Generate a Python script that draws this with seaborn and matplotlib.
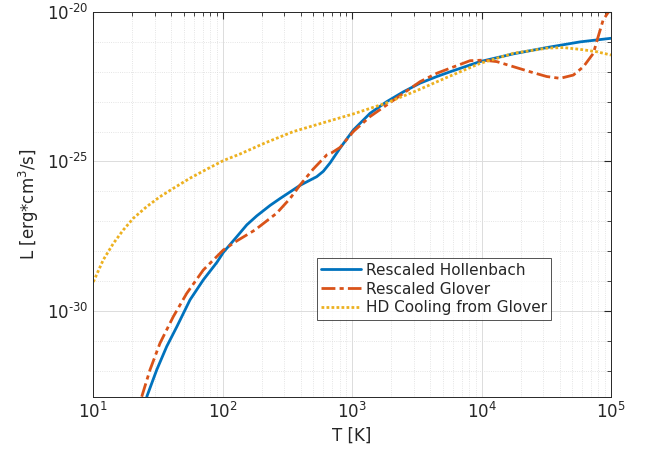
import numpy as np
import pandas as pd
import matplotlib
matplotlib.use('Agg')
import matplotlib.pyplot as plt
import matplotlib.ticker as mticker
import seaborn as sns

# values, as log10(T [K]) and log10(L [erg cm^3/s])
hollenbach_logT = [1.413, 1.490, 1.567, 1.645, 1.747, 1.850, 1.954, 2.005, 2.108, 2.186,
                   2.263, 2.366, 2.443, 2.597, 2.726, 2.777, 2.829, 2.907, 3.009, 3.138,
                   3.267, 3.396, 3.525, 3.654, 3.757, 3.988, 4.246, 4.504, 4.761, 5.0]
hollenbach_logL = [-32.87, -31.97, -31.19, -30.53, -29.63, -28.96, -28.38, -28.04, -27.52, -27.12,
                   -26.82, -26.47, -26.24, -25.80, -25.51, -25.33, -25.05, -24.55, -23.95, -23.39,
                   -23.00, -22.67, -22.38, -22.16, -22.00, -21.66, -21.40, -21.19, -21.00, -20.88]

glover_logT = [1.374, 1.438, 1.515, 1.618, 1.722, 1.850, 2.005, 2.108, 2.250, 2.417,
               2.520, 2.597, 2.700, 2.804, 2.842, 2.907, 3.009, 3.138, 3.267, 3.396,
               3.525, 3.654, 3.757, 3.911, 4.014, 4.117, 4.246, 4.375, 4.504, 4.607,
               4.709, 4.787, 4.864, 4.893, 4.939, 5.0]
glover_logL = [-32.87, -31.97, -31.08, -30.19, -29.41, -28.63, -27.96, -27.66, -27.29, -26.73,
               -26.24, -25.79, -25.25, -24.78, -24.71, -24.53, -24.00, -23.50, -23.11, -22.72,
               -22.33, -22.05, -21.88, -21.63, -21.61, -21.66, -21.83, -22.00, -22.16, -22.22,
               -22.11, -21.83, -21.38, -20.94, -20.27, -19.87]

hd_logT = [1.0, 1.077, 1.155, 1.232, 1.309, 1.413, 1.515, 1.618, 1.747, 1.876,
           2.005, 2.134, 2.327, 2.546, 2.804, 3.009, 3.267, 3.494, 3.731, 3.988,
           4.246, 4.504, 4.632, 4.761, 4.890, 5.0]
hd_logL = [-29.03, -28.29, -27.74, -27.29, -26.90, -26.51, -26.18, -25.90, -25.56, -25.26,
           -24.97, -24.75, -24.38, -24.00, -23.67, -23.41, -23.04, -22.64, -22.19, -21.72,
           -21.38, -21.21, -21.19, -21.25, -21.33, -21.44]

labels = ['Rescaled Hollenbach', 'Rescaled Glover', 'HD Cooling from Glover']
colors = ['#0072BD', '#D95319', '#EDB120']
styles = ['-', (0, (5, 1.5, 1.5, 1.5)), (0, (1, 0.8))]

sns.set_style('white')
plt.rcParams['font.family'] = ['DejaVu Sans']

fig = plt.figure(figsize=(6.45, 4.54), dpi=100)
ax = fig.add_axes([0.1447, 0.1262, 0.8026, 0.8474])

series = [(hollenbach_logT, hollenbach_logL), (glover_logT, glover_logL), (hd_logT, hd_logL)]
for (lt, ll), lab, col, ls in zip(series, labels, colors, styles):
    df = pd.DataFrame({'T': 10 ** np.array(lt), 'L': 10 ** np.array(ll)})
    sns.lineplot(data=df, x='T', y='L', ax=ax, color=col, linewidth=2,
                 linestyle=ls, label=lab, sort=False, estimator=None)

ax.set_xscale('log')
ax.set_yscale('log')
ax.set_xlim(10, 1e5)
ax.set_ylim(10 ** -32.87, 1e-20)


def pow_label(v, p):
    e = int(round(np.log10(v)))
    return r'$10^{\text{%d}}$' % e


ax.yaxis.set_major_locator(mticker.FixedLocator([1e-30, 1e-25, 1e-20]))
ax.yaxis.set_minor_locator(mticker.FixedLocator([10.0 ** k for k in range(-32, -19)]))
ax.yaxis.set_minor_formatter(mticker.NullFormatter())
ax.yaxis.set_major_formatter(mticker.FuncFormatter(pow_label))
ax.xaxis.set_major_locator(mticker.LogLocator(base=10))
ax.xaxis.set_minor_locator(mticker.LogLocator(base=10, subs=np.arange(2, 10)))
ax.xaxis.set_minor_formatter(mticker.NullFormatter())
ax.xaxis.set_major_formatter(mticker.FuncFormatter(pow_label))

ax.grid(True, which='major', color='#dcdcdc', linewidth=0.7, linestyle='-')
ax.grid(True, which='minor', color='#dcdcdc', linewidth=0.6, linestyle=':')
ax.tick_params(which='both', direction='in', top=True, right=True, colors='#262626',
               labelsize=12)
ax.tick_params(which='major', length=5)
ax.tick_params(which='minor', length=3)
for s in ax.spines.values():
    s.set_color('#262626')
    s.set_linewidth(0.7)

ax.set_xlabel('T [K]', fontsize=12, color='#262626')
ax.set_ylabel(r'L [erg*cm$^3$/s]', fontsize=12, color='#262626')

leg = ax.legend(loc='lower left', bbox_to_anchor=(0.4315, 0.1994), fontsize=11,
                frameon=True, fancybox=False, handlelength=2.6, borderpad=0.3,
                labelspacing=0.25, handletextpad=0.3, borderaxespad=0)
leg.get_frame().set_edgecolor('#262626')
leg.get_frame().set_linewidth(0.7)
for t in leg.get_texts():
    t.set_color('#262626')

fig.savefig('out.png', dpi=100)
